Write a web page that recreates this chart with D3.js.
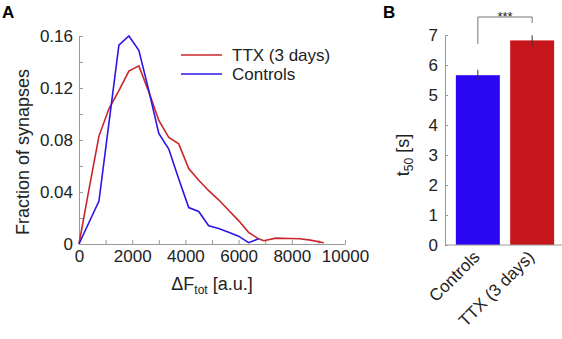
<!DOCTYPE html>
<meta charset="utf-8">
<style>
body { margin: 0; background: #fff; }
svg { font-family: "Liberation Sans", Arial, sans-serif; }
.axis path, .axis line { stroke: #9a9a9a; }
.axis text { font-size: 17px; fill: #222; }
</style>
<body>
<svg width="562" height="339"></svg>
<script src="https://d3js.org/d3.v7.min.js"></script>
<script>

// panel A: histogram of total fluorescence change
var ttxX    = [0, 375, 750, 1125, 1500, 1875, 2250, 2625, 3000, 3375, 3750, 4125, 4500, 4875, 5250, 5625, 6000, 6375, 6750, 6950, 7400, 7900, 8300, 8700, 9200];
var ttxFrac = [0, 0.042, 0.083, 0.104, 0.118, 0.133, 0.137, 0.117, 0.095, 0.082, 0.077, 0.058, 0.049, 0.041, 0.034, 0.026, 0.018, 0.009, 0.004, 0.0025, 0.0045, 0.0042, 0.004, 0.003, 0.001];
var ctrlX    = [0, 750, 1500, 1875, 2250, 2625, 3000, 3375, 3750, 4125, 4500, 4875, 5250, 5625, 6000, 6375, 6750];
var ctrlFrac = [0, 0.033, 0.153, 0.160, 0.149, 0.118, 0.085, 0.073, 0.050, 0.028, 0.025, 0.014, 0.012, 0.009, 0.006, 0.001, 0.004];
var fracTicks = [0, 0.02, 0.04, 0.06, 0.08, 0.10, 0.12, 0.14, 0.16];
var dfTicks = [0, 1000, 2000, 3000, 4000, 5000, 6000, 7000, 8000, 9000, 10000];

// panel B: t50 bars
var groups = ["Controls", "TTX (3 days)"];
var t50 = [5.66, 6.82];
var t50Err = [0.18, 0.17];
var t50Ticks = [0, 1, 2, 3, 4, 5, 6, 7];

var red = "#c8262a", blue = "#2c16e6";
var barColors = ["#2a06f2", "#c8161d"];

var svg = d3.select("svg");

// ---- panel A
var x = d3.scaleLinear().domain([0, 10000]).range([79, 345]);
var y = d3.scaleLinear().domain([0, 0.16]).range([244, 36]);

svg.append("g")
    .attr("class", "axis")
    .attr("transform", "translate(0,244)")
    .call(d3.axisBottom(x).tickValues(dfTicks).tickSizeInner(-4).tickSizeOuter(0).tickPadding(6)
      .tickFormat(function(d) { return d % 2000 ? "" : d; }));

svg.append("g")
    .attr("class", "axis")
    .attr("transform", "translate(79,0)")
    .call(d3.axisLeft(y).tickValues(fracTicks).tickSizeInner(-4).tickSizeOuter(0).tickPadding(6)
      .tickFormat(function(d, i) { return i % 2 ? "" : (d === 0 ? "0" : d3.format(".2f")(d)); }));

var line = d3.line()
    .x(function(d) { return x(d[0]); })
    .y(function(d) { return y(d[1]); });

svg.append("path")
    .datum(d3.zip(ttxX, ttxFrac))
    .attr("d", line)
    .attr("fill", "none")
    .attr("stroke", red)
    .attr("stroke-width", 1.6);

svg.append("path")
    .datum(d3.zip(ctrlX, ctrlFrac))
    .attr("d", line)
    .attr("fill", "none")
    .attr("stroke", blue)
    .attr("stroke-width", 1.6);

// legend
var legend = [["TTX (3 days)", red], ["Controls", blue]];
legend.forEach(function(l, i) {
  var ly = 55 + i * 19;
  svg.append("line").attr("x1", 181).attr("x2", 222).attr("y1", ly).attr("y2", ly)
      .attr("stroke", l[1]).attr("stroke-width", 1.6);
  svg.append("text").attr("x", 232).attr("y", ly + 6).attr("font-size", 17).attr("fill", "#222").text(l[0]);
});

svg.append("text")
    .attr("transform", "translate(29,152) rotate(-90)")
    .attr("text-anchor", "middle")
    .attr("font-size", 18)
    .attr("fill", "#222")
    .text("Fraction of synapses");

var xt = svg.append("text")
    .attr("x", 212).attr("y", 290)
    .attr("text-anchor", "middle")
    .attr("font-size", 18)
    .attr("fill", "#222");
xt.append("tspan").text("\u0394F");
xt.append("tspan").attr("font-size", 12).attr("dy", 4).text("tot");
xt.append("tspan").attr("dy", -4).text(" [a.u.]");

svg.append("text").attr("x", 2).attr("y", 18).attr("font-size", 17).attr("font-weight", "bold").text("A");

// ---- panel B
var xb = d3.scaleBand().domain(groups).range([445, 565]).paddingInner(0.19).paddingOuter(0.2);
var yb = d3.scaleLinear().domain([0, 7]).range([245, 35]);

svg.append("g")
    .attr("class", "axis")
    .attr("transform", "translate(445,0)")
    .call(d3.axisLeft(yb).tickValues(t50Ticks).tickSizeInner(-3).tickSizeOuter(0).tickPadding(7)
      .tickFormat(d3.format("d")));

svg.selectAll(".bar")
    .data(groups)
    .enter().append("rect")
      .attr("class", "bar")
      .attr("x", function(d) { return xb(d); })
      .attr("width", xb.bandwidth())
      .attr("y", function(d, i) { return yb(t50[i]); })
      .attr("height", function(d, i) { return yb(0) - yb(t50[i]); })
      .attr("fill", function(d, i) { return barColors[i]; });

svg.append("line").attr("x1", 445).attr("x2", 562).attr("y1", 245).attr("y2", 245)
    .attr("stroke", "#9a9a9a");

svg.selectAll(".err")
    .data(groups)
    .enter().append("line")
      .attr("class", "err")
      .attr("x1", function(d) { return xb(d) + xb.bandwidth() / 2; })
      .attr("x2", function(d) { return xb(d) + xb.bandwidth() / 2; })
      .attr("y1", function(d, i) { return yb(t50[i] - t50Err[i]); })
      .attr("y2", function(d, i) { return yb(t50[i] + t50Err[i]); })
      .attr("stroke", "#333");

svg.selectAll(".xlab")
    .data(groups)
    .enter().append("text")
      .attr("class", "xlab")
      .attr("transform", function(d) { return "translate(" + (xb(d) + xb.bandwidth() / 2 + 3) + ",258) rotate(-45)"; })
      .attr("text-anchor", "end")
      .attr("font-size", 17)
      .attr("fill", "#222")
      .text(function(d) { return d; });

// significance bracket
var c0 = xb(groups[0]) + xb.bandwidth() / 2, c1 = xb(groups[1]) + xb.bandwidth() / 2;
svg.append("path")
    .attr("d", "M" + c0 + "," + (yb(t50[0] + t50Err[0]) - 26) + "V17H" + c1 + "V23")
    .attr("fill", "none")
    .attr("stroke", "#777");
svg.append("text").attr("x", (c0 + c1) / 2).attr("y", 21).attr("text-anchor", "middle")
    .attr("font-size", 13).attr("fill", "#222").text("***");

var yt = svg.append("text")
    .attr("transform", "translate(409,155) rotate(-90)")
    .attr("text-anchor", "middle")
    .attr("font-size", 18)
    .attr("fill", "#222");
yt.append("tspan").text("t");
yt.append("tspan").attr("font-size", 12).attr("dy", 4).text("50");
yt.append("tspan").attr("dy", -4).text(" [s]");

svg.append("text").attr("x", 383).attr("y", 18).attr("font-size", 17).attr("font-weight", "bold").text("B");

</script>
</body>
